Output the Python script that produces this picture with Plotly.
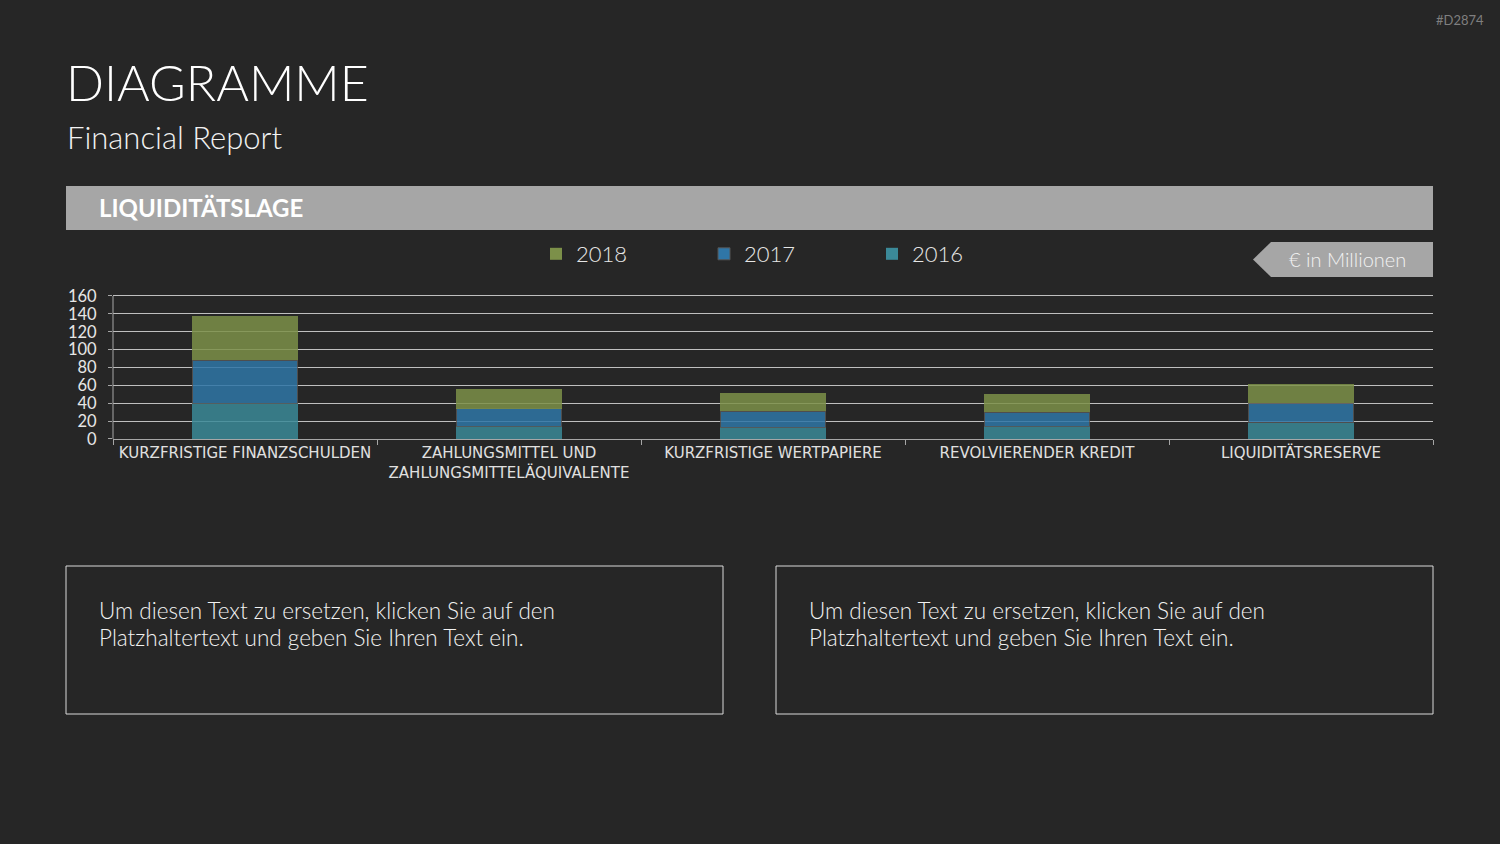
import plotly.graph_objects as go

categories = ["KURZFRISTIGE FINANZSCHULDEN",
              "ZAHLUNGSMITTEL UND<br>ZAHLUNGSMITTELÄQUIVALENTE",
              "KURZFRISTIGE WERTPAPIERE",
              "REVOLVIERENDER KREDIT",
              "LIQUIDITÄTSRESERVE"]
values_2016 = [40, 14, 13, 14, 18]
values_2017 = [48, 20, 18, 16, 22]
values_2018 = [50, 22, 21, 20, 22]
y_ticks = [0, 20, 40, 60, 80, 100, 120, 140, 160]

W, H = 1500, 844
BG = "#262626"
FONT = "Lato"

def px(x):
    return x / W

def py(y):
    return 1 - y / H

Y_MAX = 163
y_top_px = 439 - Y_MAX * (143 / 160)

fig = go.Figure()
series = [("2016", values_2016, "#3b8998", 0),
          ("2017", values_2017, "#2f76a7", 1),
          ("2018", values_2018, "#7c9049", 0)]
for name, vals, col, lw in series:
    fig.add_trace(go.Bar(name=name, x=categories, y=vals,
                         marker=dict(color=col, opacity=0.85,
                                     line=dict(width=lw, color="#555555"))))

fig.update_layout(
    width=W, height=H,
    paper_bgcolor=BG, plot_bgcolor=BG,
    margin=dict(l=0, r=0, t=0, b=0, autoexpand=False),
    barmode="stack", bargap=0.6,
    font=dict(family=FONT, color="#d9d9d9"),
    showlegend=True,
    legend=dict(orientation="h", x=px(536), y=py(254), xanchor="left", yanchor="middle",
                traceorder="reversed", entrywidth=123, entrywidthmode="pixels",
                font=dict(size=22, color="#e6e6e6", family=FONT, weight=300),
                bgcolor="rgba(0,0,0,0)", itemclick=False),
    xaxis=dict(domain=[px(113), px(1433)], type="category", automargin=False,
               showline=True, linecolor="#a6a6a6", linewidth=1,
               ticks="outside", tickson="boundaries", ticklen=5, tickcolor="#a6a6a6",
               tickfont=dict(size=15, color="#e0e0e0", family="DejaVu Sans"),
               showgrid=False, fixedrange=True),
    yaxis=dict(domain=[py(439), py(y_top_px)], range=[0, Y_MAX], tickvals=y_ticks,
               automargin=False,
               showgrid=True, gridcolor="#bfbfbf", gridwidth=1,
               showline=False,
               ticks="outside", ticklen=4, tickcolor="#a6a6a6",
               ticklabelstandoff=8,
               tickfont=dict(size=16.5, color="#e6e6e6", family=FONT, weight=400),
               zeroline=False, fixedrange=True),
)

shapes = []
annotations = []

# y axis line from 0 to 160
shapes.append(dict(type="line", xref="paper", yref="y",
                   x0=px(113), x1=px(113), y0=0, y1=y_ticks[-1],
                   line=dict(color="#a6a6a6", width=1)))

# header banner
shapes.append(dict(type="rect", xref="paper", yref="paper",
                   x0=px(66), x1=px(1433), y0=py(230), y1=py(186),
                   fillcolor="#a6a6a6", line=dict(width=0), layer="below"))
annotations.append(dict(text="<b>LIQUIDITÄTSLAGE</b>", xref="paper", yref="paper",
                        x=px(97), y=py(207), xanchor="left", yanchor="middle",
                        showarrow=False, font=dict(size=24, color="#ffffff", family=FONT)))

# unit label arrow
path = "M {},{} L {},{} L {},{} L {},{} L {},{} Z".format(
    px(1253), py(259.5), px(1271), py(242), px(1433), py(242), px(1433), py(277), px(1271), py(277))
shapes.append(dict(type="path", xref="paper", yref="paper", path=path,
                   fillcolor="#a6a6a6", line=dict(width=0)))
annotations.append(dict(text="€ in Millionen", xref="paper", yref="paper",
                        x=px(1347), y=py(259), xanchor="center", yanchor="middle",
                        showarrow=False, font=dict(size=20, color="#f2f2f2", family=FONT, weight=300)))

# titles
annotations.append(dict(text="DIAGRAMME", xref="paper", yref="paper",
                        x=px(64), y=py(82), xanchor="left", yanchor="middle",
                        showarrow=False, font=dict(size=50, color="#ffffff", family=FONT, weight=300)))
annotations.append(dict(text="Financial Report", xref="paper", yref="paper",
                        x=px(65), y=py(137), xanchor="left", yanchor="middle",
                        showarrow=False, font=dict(size=31, color="#f2f2f2", family=FONT, weight=300)))
annotations.append(dict(text="#D2874", xref="paper", yref="paper",
                        x=px(1486), y=py(20), xanchor="right", yanchor="middle",
                        showarrow=False, font=dict(size=13, color="#7f7f7f", family=FONT)))

# text boxes
box_lines = ["Um diesen Text zu ersetzen, klicken Sie auf den",
             "Platzhaltertext und geben Sie Ihren Text ein."]
for x0, x1 in [(66, 723), (776, 1433)]:
    shapes.append(dict(type="rect", xref="paper", yref="paper",
                       x0=px(x0), x1=px(x1), y0=py(714), y1=py(566),
                       fillcolor="rgba(0,0,0,0)", line=dict(color="#d9d9d9", width=1)))
    for i, line in enumerate(box_lines):
        annotations.append(dict(text=line, xref="paper", yref="paper",
                                x=px(x0 + 31), y=py(610 + 27 * i), xanchor="left", yanchor="middle",
                                align="left", showarrow=False,
                                font=dict(size=22.5, color="#f2f2f2", family=FONT, weight=300)))

fig.update_layout(shapes=shapes, annotations=annotations)
fig.write_html("out.html")
